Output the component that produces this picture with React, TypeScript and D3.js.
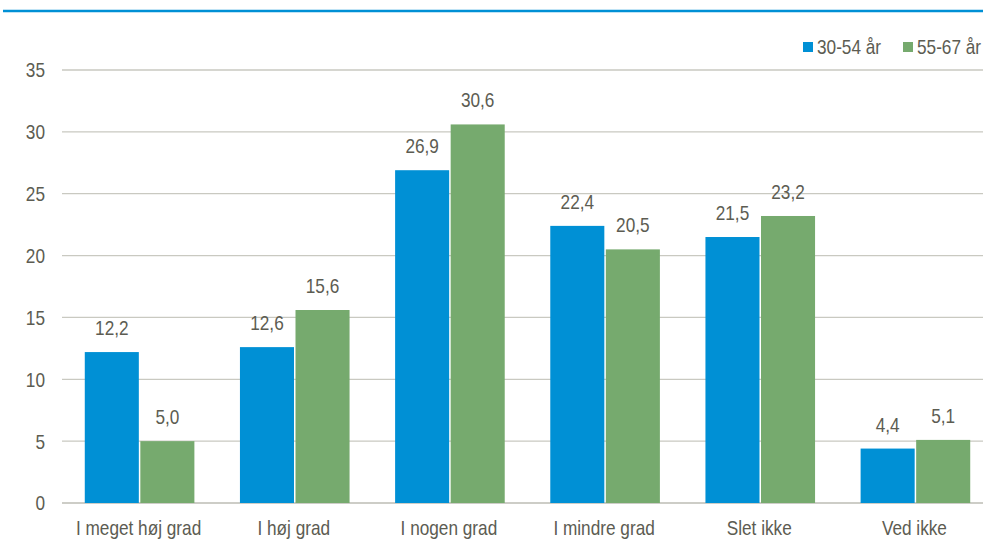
import React from "react";
import * as d3 from "d3";

const categories = ["I meget høj grad", "I høj grad", "I nogen grad", "I mindre grad", "Slet ikke", "Ved ikke"];
const seriesNames = ["30-54 år", "55-67 år"];
const values3054 = [12.2, 12.6, 26.9, 22.4, 21.5, 4.4];
const values5567 = [5.0, 15.6, 30.6, 20.5, 23.2, 5.1];
const yTicks = [0, 5, 10, 15, 20, 25, 30, 35];

const colors = ["#0090d5", "#76aa6e"];
const textColor = "#5c5c52";
const font = "'Liberation Sans', Arial, sans-serif";
const SX = 0.82;

function T({ x, y, anchor = "start", children, dy }: { x: number; y: number; anchor?: string; children: any; dy?: string }) {
  return (
    <text transform={`translate(${x},${y}) scale(${SX},1)`} dy={dy} textAnchor={anchor as any} fontSize={21} fill={textColor}>
      {children}
    </text>
  );
}

export default function App() {
  const W = 983, H = 545;
  const left = 62, right = 993, top = 70, bottom = 503;
  const x = d3.scaleBand<string>().domain(categories).range([left, right]).paddingInner(0).paddingOuter(0);
  const x1 = d3.scaleBand<string>().domain(seriesNames).range([0, x.bandwidth()]).paddingInner(0.027).paddingOuter(0.41);
  const y = d3.scaleLinear().domain([0, 35]).range([bottom, top]);
  const series = [values3054, values5567];
  const fmt = (v: number) => v.toFixed(1).replace(".", ",");

  return (
    <svg width={W} height={H} style={{ position: "absolute", left: 0, top: 0, fontFamily: font }}>
      <rect width={W} height={H} fill="#fff" />
      <line x1={3} x2={W} y1={11} y2={11} stroke="#0090d5" strokeWidth={2.5} />
      {yTicks.map((t) => (
        <g key={t}>
          <line x1={left} x2={W} y1={y(t)} y2={y(t)} stroke={t === 0 ? "#bdbdb5" : "#c9c9c1"} strokeWidth={1.3} />
          <T x={45} y={y(t)} dy="0.35em" anchor="end">{t}</T>
        </g>
      ))}
      {categories.map((c, i) => (
        <g key={c}>
          {series.map((vals, s) => {
            const bx = (x(c) as number) + (x1(seriesNames[s]) as number);
            const bw = x1.bandwidth();
            return (
              <g key={s}>
                <rect x={bx} y={y(vals[i])} width={bw} height={bottom - y(vals[i])} fill={colors[s]} />
                <T x={bx + bw / 2} y={y(vals[i]) - 17} anchor="middle">{fmt(vals[i])}</T>
              </g>
            );
          })}
          <T x={(x(c) as number) + x.bandwidth() / 2 - 1} y={535} anchor="middle">{c}</T>
        </g>
      ))}
      <g>
        <rect x={803} y={42} width={10} height={10} fill={colors[0]} />
        <T x={817} y={47} dy="0.35em">{seriesNames[0]}</T>
        <rect x={903} y={42} width={10} height={10} fill={colors[1]} />
        <T x={917} y={47} dy="0.35em">{seriesNames[1]}</T>
      </g>
    </svg>
  );
}
